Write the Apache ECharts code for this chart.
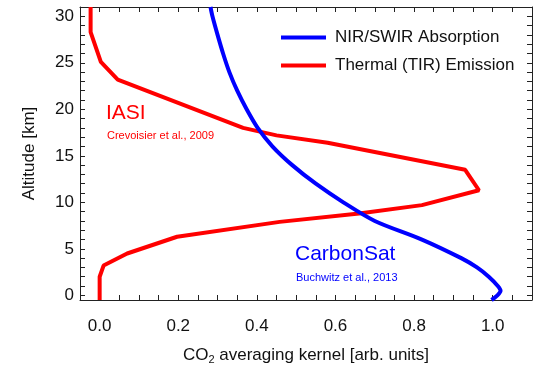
<!DOCTYPE html>
<html>
<head>
<meta charset="utf-8">
<title>CO2 averaging kernel</title>
<script src="https://cdn.jsdelivr.net/npm/echarts@6/dist/echarts.min.js"></script>
<style>
  html, body { margin: 0; padding: 0; background: #fff; }
  #chart { width: 537px; height: 365px; }
</style>
</head>
<body>
<div id="chart"></div>
<script>
// values: altitude [km] and kernel [arb. units]
const nirAlt = [31, 30, 28, 26, 24, 22, 20, 18, 16, 14, 12, 10, 8, 6, 4, 3, 2, 1, 0.5, 0, -0.5]
const nirKernel = [0.282, 0.287, 0.3, 0.314, 0.33, 0.35, 0.374, 0.402, 0.44, 0.49, 0.55, 0.62, 0.7, 0.82, 0.92, 0.96, 0.99, 1.013, 1.02, 1.012, 0.997]
const tirAlt = [31, 28.3, 25.1, 23.2, 18.0, 17.2, 16.4, 13.5, 11.3, 9.7, 8.8, 7.9, 6.3, 4.5, 3.2, 2.0, -0.5]
const tirKernel = [-0.023, -0.023, 0.003, 0.046, 0.365, 0.45, 0.58, 0.93, 0.965, 0.82, 0.66, 0.458, 0.197, 0.07, 0.01, 0.0, 0.0]
const xTicks = [0, 0.2, 0.4, 0.6, 0.8, 1.0]
const yTicks = [0, 5, 10, 15, 20, 25, 30]

const FONT = 'Liberation Sans, Arial, Helvetica, sans-serif'
const pairs = (xs, ys) => xs.map((x, i) => [x, ys[i]])
const isTick = (list, v) => list.some(t => Math.abs(t - v) < 1e-6)

const chart = echarts.init(document.getElementById('chart'))

const tickStyle = { show: true, inside: true, length: 5, lineStyle: { color: '#222', width: 1 } }
const lineStyle = { show: true, onZero: false, lineStyle: { color: '#222', width: 1 } }

chart.setOption({
  animation: false,
  textStyle: { fontFamily: FONT },
  grid: { left: 80, right: 5, top: 7, bottom: 65, outerBoundsMode: 'none' },
  legend: {
    orient: 'vertical',
    left: 276,
    top: 24,
    icon: 'rect',
    itemWidth: 45,
    itemHeight: 4,
    itemGap: 11,
    data: ['NIR/SWIR Absorption', 'Thermal (TIR) Emission'],
    textStyle: { fontSize: 17, color: '#111', padding: [0, 0, 0, 4] }
  },
  xAxis: [
    {
      type: 'value',
      min: -0.05,
      max: 1.1,
      interval: 0.05,
      axisLine: lineStyle,
      axisTick: tickStyle,
      splitLine: { show: false },
      axisLabel: {
        fontSize: 17,
        color: '#111',
        margin: 18,
        formatter: v => (isTick(xTicks, v) ? v.toFixed(1) : '')
      },
      name: '{a|CO}{s|2}{a| averaging kernel [arb. units]}',
      nameLocation: 'middle',
      nameGap: 45,
      nameTextStyle: {
        rich: {
          a: { fontSize: 17, color: '#111', fontFamily: FONT },
          s: { fontSize: 11, color: '#111', fontFamily: FONT, padding: [9, 0, 0, 0] }
        }
      }
    },
    {
      type: 'value',
      position: 'top',
      min: -0.05,
      max: 1.1,
      interval: 0.05,
      axisLine: lineStyle,
      axisTick: tickStyle,
      axisLabel: { show: false },
      splitLine: { show: false }
    }
  ],
  yAxis: [
    {
      type: 'value',
      min: -0.5,
      max: 31,
      minInterval: 1,
      maxInterval: 1,
      splitNumber: 31,
      axisLine: lineStyle,
      axisTick: tickStyle,
      splitLine: { show: false },
      axisLabel: {
        fontSize: 17,
        color: '#111',
        margin: 6,
        formatter: v => (isTick(yTicks, v) ? String(v) : '')
      },
      name: 'Altitude [km]',
      nameLocation: 'middle',
      nameGap: 42,
      nameTextStyle: { fontSize: 17, color: '#111' }
    },
    {
      type: 'value',
      position: 'right',
      min: -0.5,
      max: 31,
      minInterval: 1,
      maxInterval: 1,
      splitNumber: 31,
      axisLine: lineStyle,
      axisTick: tickStyle,
      axisLabel: { show: false },
      splitLine: { show: false }
    }
  ],
  series: [
    {
      name: 'Thermal (TIR) Emission',
      type: 'line',
      color: '#ff0000',
      symbol: 'none',
      lineStyle: { width: 4, color: '#ff0000' },
      data: pairs(tirKernel, tirAlt)
    },
    {
      name: 'NIR/SWIR Absorption',
      type: 'line',
      color: '#0000ff',
      symbol: 'none',
      smooth: 0.3,
      lineStyle: { width: 4, color: '#0000ff' },
      data: pairs(nirKernel, nirAlt)
    }
  ],
  graphic: [
    { type: 'text', x: 106, y: 113.5, style: { text: 'IASI', fill: '#ff0000', font: '21px ' + FONT, textVerticalAlign: 'middle' } },
    { type: 'text', x: 107, y: 136, style: { text: 'Crevoisier et al., 2009', fill: '#ff0000', font: '11px ' + FONT, textVerticalAlign: 'middle' } },
    { type: 'text', x: 295, y: 254.5, style: { text: 'CarbonSat', fill: '#0000ff', font: '21px ' + FONT, textVerticalAlign: 'middle' } },
    { type: 'text', x: 296, y: 277.5, style: { text: 'Buchwitz et al., 2013', fill: '#0000ff', font: '11px ' + FONT, textVerticalAlign: 'middle' } }
  ]
})
</script>
</body>
</html>
